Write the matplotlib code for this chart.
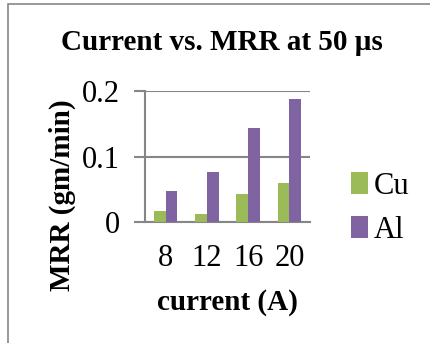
import numpy as np
import matplotlib.pyplot as plt
from matplotlib.patches import Rectangle

# data
currents = ['8', '12', '16', '20']
cu_mrr = [0.017, 0.012, 0.042, 0.059]
al_mrr = [0.047, 0.076, 0.143, 0.188]

W, H = 430, 343
fig = plt.figure(figsize=(W / 100, H / 100), dpi=100)
plt.rcParams['font.family'] = ['Liberation Serif', 'DejaVu Serif']

# outer chart frame (runs off right and bottom edge)
fig.patches.append(Rectangle((8 / W, -0.05), 1.0, 1 - 4 / H + 0.05, transform=fig.transFigure,
                             fill=False, edgecolor='#868686', lw=1.2))

ax = fig.add_axes([145 / W, (H - 222) / H, 165 / W, 131 / H])

x = np.arange(len(currents))
w = 0.283
ax.bar(x - w / 2, cu_mrr, w, color='#9BBB59', label='Cu', zorder=3)
ax.bar(x + w / 2, al_mrr, w, color='#8064A2', label='Al', zorder=3)

ax.set_xlim(-0.5, 3.5)
ax.set_ylim(0, 0.2)
ax.set_yticks([0, 0.1, 0.2])
ax.set_yticklabels(['0', '0.1', '0.2'], fontsize=22)
ax.set_xticks(x)
ax.set_xticklabels(currents, fontsize=22)
ax.tick_params(axis='y', length=8, width=1.5, color='#868686', pad=10)
ax.tick_params(axis='x', length=0, pad=16)
ax.grid(axis='y', color='#868686', lw=1.5, zorder=0)
for s in ['top', 'right']:
    ax.spines[s].set_visible(False)
for s in ['left', 'bottom']:
    ax.spines[s].set_color('#868686')
    ax.spines[s].set_linewidth(1.5)

ax.set_ylabel('MRR (gm/min)', fontsize=21, fontweight='bold')
ax.yaxis.set_label_coords((76 - 145) / 165, (222 - 195) / 131)
ax.set_xlabel('current (A)', fontsize=21, fontweight='bold')
ax.xaxis.set_label_coords(0.5, (222 - 289) / 131)
fig.text(222 / W, 1 - 42 / H, 'Current vs. MRR at 50 µs', fontsize=21, fontweight='bold',
         ha='center', va='center')

ax.legend(loc='center left', bbox_to_anchor=(1.08, 0.105), frameon=False, fontsize=22,
          handlelength=0.55, handleheight=0.7, handletextpad=0.2, labelspacing=0.5)

fig.savefig('out.png', dpi=100)
